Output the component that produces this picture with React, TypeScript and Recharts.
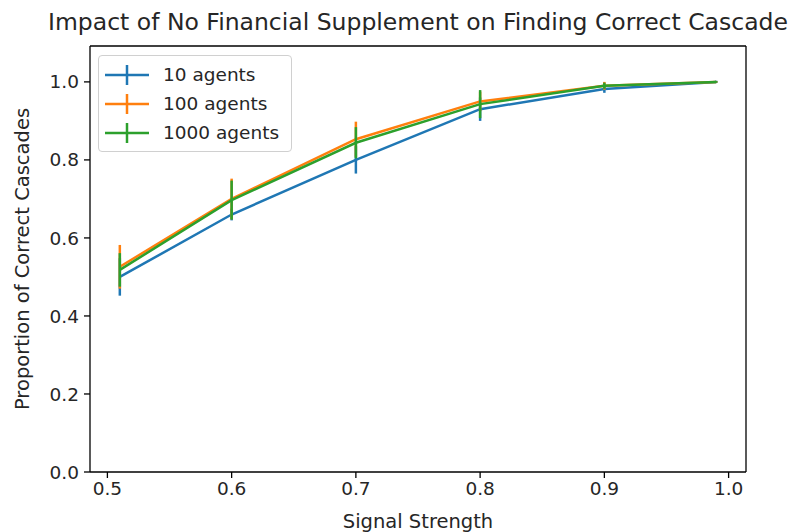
import React from "react";
import {
  LineChart,
  Line,
  XAxis,
  YAxis,
  ErrorBar,
  ReferenceLine,
} from "recharts";

// values
const signalStrength = [0.51, 0.6, 0.7, 0.8, 0.9, 0.99];

const agents10 = [0.5, 0.66, 0.8, 0.93, 0.982, 1.0];
const agents10Err = [0.048, 0.015, 0.035, 0.03, 0.01, 0.003];

const agents100 = [0.526, 0.7, 0.853, 0.95, 0.99, 1.0];
const agents100Err = [0.056, 0.052, 0.045, 0.025, 0.01, 0.002];

const agents1000 = [0.518, 0.697, 0.844, 0.943, 0.99, 1.0];
const agents1000Err = [0.043, 0.05, 0.04, 0.036, 0.008, 0.002];

const xTicks = [0.5, 0.6, 0.7, 0.8, 0.9, 1.0];
const yTicks = [0, 0.2, 0.4, 0.6, 0.8, 1.0];

const seriesNames = ["10 agents", "100 agents", "1000 agents"];
const colors = ["#1f77b4", "#ff7f0e", "#2ca02c"];

const X_DOMAIN = [0.486, 1.014];
const Y_DOMAIN = [0, 1.092];

const data = signalStrength.map((x, i) => ({
  x,
  a10: agents10[i],
  a10Err: agents10Err[i],
  a100: agents100[i],
  a100Err: agents100Err[i],
  a1000: agents1000[i],
  a1000Err: agents1000Err[i],
}));

const FONT = "'DejaVu Sans', sans-serif";
const TEXT = "#262626";

const CustomLegend = () => (
  <div
    style={{
      position: "absolute",
      left: 98,
      top: 55,
      border: "1px solid #d0d0d0",
      borderRadius: "4px",
      background: "rgba(255,255,255,0.8)",
      padding: "4px 12px 4px 6px",
      fontFamily: FONT,
      fontSize: "18.5px",
      color: TEXT,
    }}
  >
    {seriesNames.map((name, i) => (
      <div
        key={name}
        style={{ display: "flex", alignItems: "center", height: "29px" }}
      >
        <svg width={44} height={20} style={{ marginRight: "14px" }}>
          <line x1={0} y1={10} x2={44} y2={10} stroke={colors[i]} strokeWidth={2.5} />
          <line x1={22} y1={0} x2={22} y2={20} stroke={colors[i]} strokeWidth={2.5} />
        </svg>
        <span>{name}</span>
      </div>
    ))}
  </div>
);

const App: React.FC = () => {
  const tickStyle = { fill: TEXT, fontSize: 18.5, fontFamily: FONT };
  return (
    <div
      style={{
        position: "absolute",
        left: 0,
        top: 0,
        width: 791,
        height: 532,
        background: "#fff",
      }}
    >
      <div
        style={{
          position: "absolute",
          left: 0,
          width: 836,
          top: 8,
          textAlign: "center",
          fontFamily: FONT,
          fontSize: "23.5px",
          color: TEXT,
          whiteSpace: "nowrap",
        }}
      >
        Impact of No Financial Supplement on Finding Correct Cascade
      </div>
      <LineChart
        width={791}
        height={532}
        data={data}
        margin={{ top: 46, right: 45, bottom: 0, left: 0 }}
      >
        <XAxis
          dataKey="x"
          type="number"
          domain={X_DOMAIN}
          ticks={xTicks}
          tickFormatter={(v: number) => v.toFixed(1)}
          tick={tickStyle}
          tickSize={6}
          tickMargin={4}
          stroke="#000"
          strokeWidth={1.3}
          height={60}
          allowDataOverflow
          label={{
            value: "Signal Strength",
            position: "insideBottom",
            offset: 4,
            style: { fill: TEXT, fontSize: 19.5, fontFamily: FONT },
          }}
        />
        <YAxis
          type="number"
          domain={Y_DOMAIN}
          ticks={yTicks}
          tickFormatter={(v: number) => v.toFixed(1)}
          tick={tickStyle}
          tickSize={6}
          tickMargin={5}
          stroke="#000"
          strokeWidth={1.3}
          width={90}
          allowDataOverflow
          label={{
            value: "Proportion of Correct Cascades",
            angle: -90,
            position: "insideLeft",
            offset: 22,
            style: { textAnchor: "middle", fill: TEXT, fontSize: 19.5, fontFamily: FONT },
          }}
        />
        {/* top and right spines */}
        <ReferenceLine y={Y_DOMAIN[1]} stroke="#000" strokeWidth={1.3} />
        <ReferenceLine x={X_DOMAIN[1]} stroke="#000" strokeWidth={1.3} />
        <Line
          dataKey="a10"
          name={seriesNames[0]}
          stroke={colors[0]}
          strokeWidth={2.5}
          dot={false}
          isAnimationActive={false}
        >
          <ErrorBar dataKey="a10Err" width={0} stroke={colors[0]} strokeWidth={2.5} direction="y" />
        </Line>
        <Line
          dataKey="a100"
          name={seriesNames[1]}
          stroke={colors[1]}
          strokeWidth={2.5}
          dot={false}
          isAnimationActive={false}
        >
          <ErrorBar dataKey="a100Err" width={0} stroke={colors[1]} strokeWidth={2.5} direction="y" />
        </Line>
        <Line
          dataKey="a1000"
          name={seriesNames[2]}
          stroke={colors[2]}
          strokeWidth={2.5}
          dot={false}
          isAnimationActive={false}
        >
          <ErrorBar dataKey="a1000Err" width={0} stroke={colors[2]} strokeWidth={2.5} direction="y" />
        </Line>
      </LineChart>
      <CustomLegend />
    </div>
  );
};

export default App;
